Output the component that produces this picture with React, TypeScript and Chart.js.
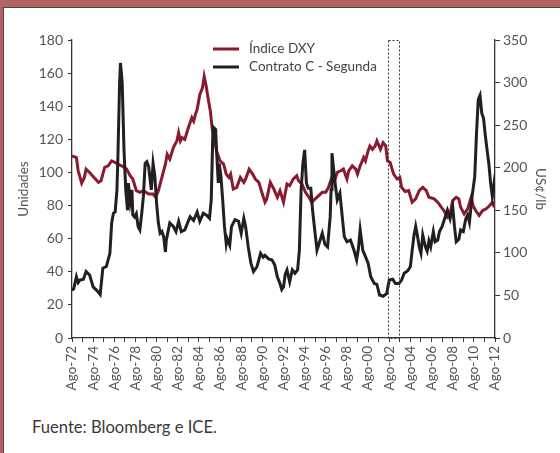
import React, { useEffect, useRef } from "react";
import { Chart, registerables } from "chart.js";

Chart.register(...registerables);

// months since Aug-1972
const dxyMonths = [0,5,7,11,14,16,20,24,30,33,37,41,45,49,52,58,62,66,69,73,77,81,87,92,95,98,102,106,108,111,115,119,121,123,125,128,132,136,138,140,142,145,148,150,152,155,157,159,162,164,168,172,175,178,180,183,187,191,195,197,201,205,208,212,216,219,221,225,229,233,236,240,244,247,251,255,257,261,265,269,272,276,280,284,288,291,295,298,301,305,308,312,314,318,322,324,327,331,333,336,338,341,344,346,350,353,356,358,361,365,369,372,374,378,382,386,390,394,398,402,405,411,415,419,422,426,429,432,436,439,441,445,449,453,455,458,462,466,470,474,477,480];
const dxyValues = [110,109,101,93.5,97,102,100,97.5,94,95,103,104,107,106,105,103.5,102,98,96,89,88,89,87,87,85,89,97,105,111,108,115,119,124,119,121,120,127,133,131,135,138,147,151,158,153,143,137,127,119,113,107,105,99,97,99,90,91,97,94,96,102,99,96,94,87,82,84,94,90,85,89,82,93,92,96,98,95,93,88,85,82,84,86,88,88,91,97,95,100,101,102,96,101,104,102,99,104,109,107,113,116,114,116,119,114,118,116,107,106,99,96,97,91,88.5,89,82,84,89,91,89,85,84,82,79,77,73,75,83,85,84,79,75,78,85,80,77,74,77,78,80,82,79];

const coffeeMonths = [0,2,5,7,9,13,16,20,24,28,32,35,39,43,45,47,49,51,52,54,55,57,59,61,63,64,66,68,69,71,73,75,77,79,81,83,85,87,90,92,94,96,98,100,102,104,106,107,111,115,118,121,124,128,134,138,142,145,149,153,156,158,160,162,163,164,166,167,169,171,173,175,176,179,181,185,189,192,195,197,200,203,206,210,214,217,219,223,227,230,233,236,238,240,242,244,247,250,253,256,258,260,262,264,266,268,271,273,275,278,281,284,287,290,293,294,295,297,299,301,304,307,309,312,316,320,323,325,327,330,333,336,339,343,346,349,353,357,360,364,367,371,374,377,381,384,386,388,390,392,394,396,398,401,403,405,407,410,412,415,417,420,423,426,429,432,434,436,439,441,444,447,449,451,454,457,459,461,463,465,467,469,471,473,475,477,479,480];
const coffeeValues = [56,58,72,65,68,69,78,74,60,56,51,82,84,99.5,135,146.5,148,174,209,299,323,299,221,174,150,182,160,174,144.5,142,146,131,127,145,166,205,207,201,174,205,190,158,135,123,125,119,101,115,135,131,125,137,125,127,142.5,138,148,137,146.5,144,140.6,162,248,246,245,221,182,205,190,162,131,111,117,109,131,139,137,123,140.6,131,107,88,78,84,99.5,95,97,93,91.6,86,72,64,57,60,75,80,66,80,76,80,103,174,205,221,182,176,176,150,131,103,113,123,110,107,142.5,174,217,197,178,162,170,139,119,113,115,103,91.6,105,127,103,95.5,88,72,64,63,50.5,49,52,68,69,64,64,68,76,79,84,103,120,131,120,107,99.5,121,107,102,114,107,125,113,115,125,131,140.6,150,140,154,131,113,116,127,125,140.6,144.5,136,166,189.5,240,280,285,264,258,238,221,205,182,166,182,170];

const seriesNames = ["Índice DXY", "Contrato C - Segunda"];
const leftAxisTitle = "Unidades";
const rightAxisTitle = "US¢/lb";
const xLabelPrefix = "Ago-";
const startYear = 72;
const totalMonths = 480;
const boxStartMonth = 359;
const boxEndMonth = 371;
const boxTopValue = 350;
const sourceText = "Fuente: Bloomberg e ICE.";

const RED = "#8a1a30";
const BLACK = "#231f20";
const FONT = "Lato, 'DejaVu Sans', sans-serif";
const AXIS = "#333333";
const TICKTXT = "#555555";

const overlayPlugin = {
  id: "overlay",
  afterDatasetsDraw(chart: any) {
    const { ctx, chartArea, scales } = chart;
    const x = scales.x;
    const y1 = scales.y1;
    ctx.save();
    const x0 = Math.round(x.getPixelForValue(boxStartMonth)) + 0.5;
    const x1 = Math.round(x.getPixelForValue(boxEndMonth)) + 0.5;
    const yt = Math.round(y1.getPixelForValue(boxTopValue)) + 0.5;
    const yb = Math.round(y1.getPixelForValue(0)) + 0.5;
    ctx.setLineDash([2, 2]);
    ctx.strokeStyle = "#333";
    ctx.lineWidth = 1;
    ctx.strokeRect(x0, yt, x1 - x0, yb - yt);
    ctx.setLineDash([]);
    const lx = chartArea.left + 141;
    const colors = [RED, BLACK];
    ctx.font = "13.5px " + FONT;
    ctx.textBaseline = "middle";
    ctx.textAlign = "left";
    seriesNames.forEach((name, i) => {
      const yy = chartArea.top + 9 + i * 18;
      ctx.strokeStyle = colors[i];
      ctx.lineWidth = 3;
      ctx.beginPath();
      ctx.moveTo(lx, yy);
      ctx.lineTo(lx + 26, yy);
      ctx.stroke();
      ctx.fillStyle = "#444";
      ctx.fillText(name, lx + 36, yy);
    });
    ctx.restore();
  },
};

export default function App() {
  const ref = useRef<HTMLCanvasElement>(null);
  useEffect(() => {
    document.body.style.margin = "0";
    const canvas = ref.current;
    if (!canvas) return;
    const dxy = dxyMonths.map((m, i) => ({ x: m, y: dxyValues[i] }));
    const coffee = coffeeMonths.map((m, i) => ({ x: m, y: coffeeValues[i] }));
    const yearTicks: number[] = [];
    for (let m = 0; m <= totalMonths; m += 12) yearTicks.push(m);
    const chart = new Chart(canvas, {
      type: "line",
      data: {
        datasets: [
          {
            label: seriesNames[1],
            data: coffee,
            yAxisID: "y1",
            borderColor: BLACK,
            borderWidth: 3,
            pointRadius: 0,
            tension: 0,
          },
          {
            label: seriesNames[0],
            data: dxy,
            yAxisID: "y",
            borderColor: RED,
            borderWidth: 3,
            pointRadius: 0,
            tension: 0,
          },
        ],
      },
      options: {
        animation: false,
        responsive: false,
        layout: { padding: { left: 9, right: 9, top: 32, bottom: 0 } },
        plugins: { legend: { display: false }, tooltip: { enabled: false } },
        scales: {
          x: {
            type: "linear",
            min: 0,
            max: totalMonths,
            afterBuildTicks: (scale: any) => {
              scale.ticks = yearTicks.map((v) => ({ value: v }));
            },
            afterFit: (scale: any) => {
              scale.height = 70;
            },
            border: { color: AXIS, width: 1.3 },
            grid: { drawOnChartArea: false, drawTicks: true, tickLength: 4, color: AXIS },
            ticks: {
              autoSkip: false,
              maxRotation: 90,
              minRotation: 90,
              padding: 4,
              color: TICKTXT,
              font: { family: FONT, size: 13.5 },
              callback: (v: any) => {
                const n = Number(v);
                if (n % 24 !== 0) return "";
                const yy = (startYear + n / 12) % 100;
                return xLabelPrefix + String(yy).padStart(2, "0");
              },
            },
          },
          y: {
            position: "left",
            min: 0,
            max: 180,
            afterFit: (scale: any) => {
              scale.width = 59;
            },
            border: { color: AXIS, width: 1.3 },
            grid: { drawOnChartArea: false, drawTicks: true, tickLength: 4, color: AXIS },
            ticks: { stepSize: 20, padding: 5, color: TICKTXT, font: { family: FONT, size: 14 } },
            title: {
              display: true,
              text: leftAxisTitle,
              color: TICKTXT,
              font: { family: FONT, size: 13.5 },
              padding: { top: 3, bottom: 4 },
            },
          },
          y1: {
            position: "right",
            min: 0,
            max: 350,
            afterFit: (scale: any) => {
              scale.width = 56;
            },
            border: { color: AXIS, width: 1.3 },
            grid: { drawOnChartArea: false, drawTicks: true, tickLength: 5, color: AXIS },
            ticks: { stepSize: 50, padding: 3, color: TICKTXT, font: { family: FONT, size: 14 } },
            title: {
              display: true,
              text: rightAxisTitle,
              color: TICKTXT,
              font: { family: FONT, size: 13.5 },
              padding: { top: 3, bottom: 4 },
            },
          },
        },
      },
      plugins: [overlayPlugin],
    } as any);
    return () => chart.destroy();
  }, []);

  return (
    <div
      style={{
        position: "relative",
        width: 560,
        height: 453,
        boxSizing: "border-box",
        borderTop: "7px solid #b46264",
        borderLeft: "3px solid #b46264",
        background: "#fff",
        overflow: "hidden",
      }}
    >
      <div
        style={{
          position: "relative",
          width: 557,
          height: 446,
          boxSizing: "border-box",
          borderTop: "1px solid #4a4a4a",
          borderLeft: "1px solid #4a4a4a",
        }}
      >
        <canvas ref={ref} width={556} height={400} style={{ display: "block" }} />
        <div
          style={{
            position: "absolute",
            left: 28,
            top: 409,
            fontFamily: FONT,
            fontSize: 16.6,
            lineHeight: "20px",
            color: "#3a3a3a",
            whiteSpace: "nowrap",
          }}
        >
          {sourceText}
        </div>
      </div>
    </div>
  );
}
